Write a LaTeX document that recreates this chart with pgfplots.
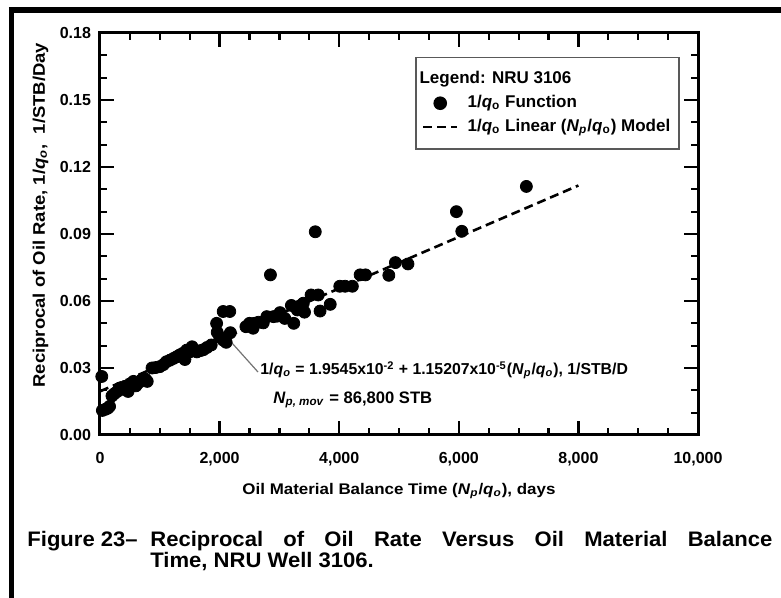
\documentclass[border=0pt]{standalone}
\usepackage{pgfplots}
\pgfplotsset{compat=1.18}
\usepackage{fontspec}
\setmainfont{Liberation Sans}
\newfontfamily\capfont[FakeStretch=1.05]{Liberation Sans}
\newfontfamily\labfont[FakeStretch=1.1]{Liberation Sans}
\newcommand{\qo}{\textit{q}\textsubscript{\textit{o}}}
\newcommand{\qoo}{\textit{q}\textsubscript{o}}
\newcommand{\Np}{\textit{N}\textsubscript{\textit{p}}}
\begin{document}
\begin{tikzpicture}
\useasboundingbox (-50pt,-81.5pt) rectangle (340.5pt,217.5pt);
\begin{axis}[
  scale only axis, width=299pt, height=201pt,
  at={(0,0)}, anchor=south west,
  xmin=0, xmax=10000, ymin=0, ymax=0.18,
  scaled x ticks=false, scaled y ticks=false,
  xtick={0,2000,4000,6000,8000,10000},
  xticklabels={0,{2,000},{4,000},{6,000},{8,000},{10,000}},
  ytick={0,0.03,0.06,0.09,0.12,0.15,0.18},
  yticklabels={0.00,0.03,0.06,0.09,0.12,0.15,0.18},
  minor x tick num=3, minor y tick num=2,
  tick align=inside,
  major tick length=7pt, minor tick length=3.5pt,
  axis line style={line width=1.5pt},
  every tick/.style={line width=1.2pt, black},
  every minor tick/.style={line width=1.1pt, black},
  ticklabel style={font=\bfseries\fontsize{8}{9}\selectfont},
  xticklabel style={yshift=-5pt},
  yticklabel style={xshift=-1pt},
  xlabel={Oil Material Balance Time (\Np/\qo), days},
  xlabel style={font=\labfont\bfseries\fontsize{7.7}{9}\selectfont, at={(axis description cs:0.5,-0.1468)}, anchor=base},
  ylabel={Reciprocal of Oil Rate, 1/\qo,\ \ 1/STB/Day},
  ylabel style={font=\labfont\bfseries\fontsize{8.4}{9}\selectfont, at={(axis description cs:-0.092,0.547)}, anchor=base},
  legend style={at={(0.970,0.941)}, anchor=north east, draw=black!65, line width=0.8pt,
    font=\bfseries\fontsize{8.5}{10}\selectfont, inner xsep=3pt, inner ysep=5pt,
    nodes={inner sep=1.5pt, text height=6.6pt, text depth=2.3pt}, row sep=0pt, column sep=3pt},
  legend cell align=left,
]
\addlegendimage{empty legend}
\addlegendentry{\hspace*{-24pt}Legend: NRU 3106}
\addplot[only marks, mark=*, mark size=3pt, mark options={fill=black, draw=black}] coordinates {
(30,0.0262) (40,0.0110) (90,0.0115) (130,0.0120) (160,0.0128)
(200,0.0175) (240,0.0185) (290,0.0195) (330,0.0210) (380,0.0205)
(420,0.0218) (470,0.0195) (510,0.0225) (560,0.0240) (600,0.0220)
(650,0.0235) (700,0.0248) (760,0.0250) (790,0.0240) (870,0.0300)
(930,0.0302) (1000,0.0306) (1060,0.0315) (1110,0.0328) (1170,0.0335)
(1230,0.0343) (1280,0.0350) (1330,0.0358) (1380,0.0365) (1420,0.0338)
(1450,0.0380) (1500,0.0372) (1540,0.0395) (1580,0.0380) (1620,0.0372)
(1680,0.0378) (1730,0.0382) (1790,0.0392) (1860,0.0403) (1950,0.0500)
(1960,0.0460) (2000,0.0440) (2060,0.0425) (2110,0.0415) (2060,0.0553)
(2170,0.0553) (2180,0.0458) (2440,0.0485) (2500,0.0500) (2560,0.0478)
(2580,0.0500) (2650,0.0505) (2730,0.0502) (2790,0.0530) (2850,0.0717)
(2900,0.0530) (2960,0.0532) (3010,0.0548) (3090,0.0522) (3200,0.0580)
(3240,0.0500) (3300,0.0560) (3340,0.0578) (3400,0.0590) (3420,0.0550)
(3530,0.0627) (3600,0.0910) (3650,0.0627) (3680,0.0555) (3850,0.0585)
(4010,0.0666) (4100,0.0666) (4220,0.0666) (4350,0.0717) (4440,0.0717)
(4830,0.0715) (4940,0.0772) (5150,0.0766) (5960,0.1000) (6050,0.0912)
(7130,0.1113)
};
\addlegendentry{1/\qoo{} Function}
\addplot[black, line width=1.3pt, dash pattern=on 4.5pt off 2.5pt] coordinates {(0,0.019545) (8000,0.111711)};
\addlegendentry{1/\qoo{} Linear (\Np/\qoo) Model}
\draw[black!55, line width=0.6pt] (axis cs:2207,0.0412) -- (axis cs:2642,0.0282);
\node[anchor=base west, font=\bfseries\fontsize{7.9}{10}\selectfont, inner sep=0pt] at (axis cs:2676,0.0269)
  {1/\qo{} = 1.9545x10\textsuperscript{-2} + 1.15207x10\textsuperscript{-5}(\Np/\qo), 1/STB/D};
\node[anchor=base west, font=\bfseries\fontsize{8.3}{10}\selectfont, inner sep=0pt] at (axis cs:2893,0.0143)
  {\textit{N}\textsubscript{\textit{p, mov}} = 86,800 STB};
\end{axis}
\node[anchor=base west, inner sep=0pt, font=\capfont\bfseries\fontsize{10.5}{12}\selectfont] at (-36.5pt,-55.85pt) {Figure 23–};
\node[anchor=base west, inner sep=0pt, font=\capfont\bfseries\fontsize{10.5}{12}\selectfont] at (25pt,-55.85pt) {\makebox[311pt][s]{Reciprocal of Oil Rate Versus Oil Material Balance}};
\node[anchor=base west, inner sep=0pt, font=\capfont\bfseries\fontsize{10.5}{12}\selectfont] at (25pt,-66.5pt) {Time, NRU Well 3106.};
\draw[line width=2.5pt] (-44.25pt,-81.5pt) -- (-44.25pt,212.65pt);
\draw[line width=3pt] (-45.5pt,212.65pt) -- (340.5pt,212.65pt);
\end{tikzpicture}
\end{document}
